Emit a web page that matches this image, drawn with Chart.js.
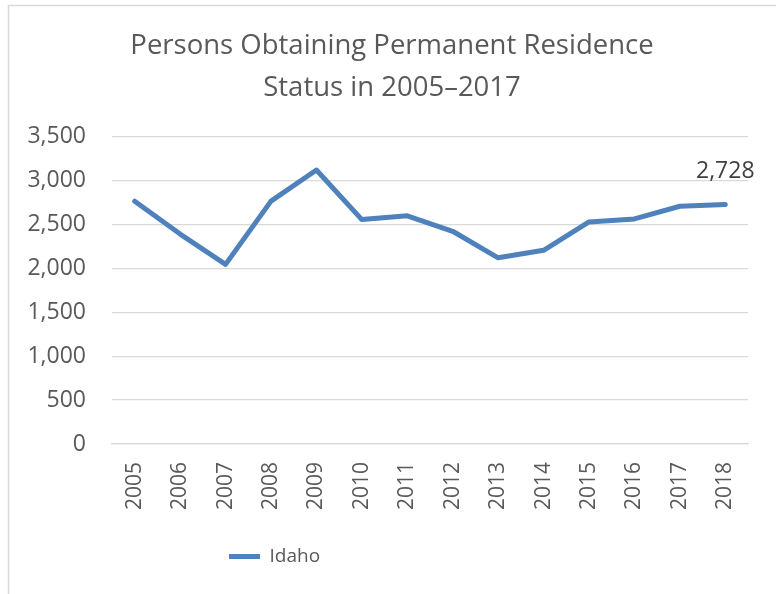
<!DOCTYPE html>
<html>
<head>
<meta charset="utf-8">
<script src="https://cdn.jsdelivr.net/npm/chart.js@4.4.1/dist/chart.umd.min.js"></script>
<style>
  html, body { margin: 0; padding: 0; background: #ffffff; }
  #wrap { position: relative; width: 776px; height: 594px; }
</style>
</head>
<body>
<div id="wrap"><canvas id="c" width="776" height="594"></canvas></div>
<script>
const titleLines = ['Persons Obtaining Permanent Residence', 'Status in 2005\u20132017'];
const years = ['2005','2006','2007','2008','2009','2010','2011','2012','2013','2014','2015','2016','2017','2018'];
const idaho = [2765, 2390, 2045, 2765, 3120, 2555, 2598, 2422, 2120, 2205, 2528, 2563, 2707, 2728];
const seriesName = 'Idaho';
const yTicks = [0, 500, 1000, 1500, 2000, 2500, 3000, 3500];

const FONT = "'Open Sans', sans-serif";
const TEXT = '#595959';
const BLUE = '#4f81bd';

const frame = {
  id: 'frame',
  beforeDraw(chart) {
    const ctx = chart.ctx;
    ctx.save();
    ctx.fillStyle = '#ffffff';
    ctx.fillRect(0, 0, chart.width, chart.height);
    ctx.strokeStyle = '#d9d9d9';
    ctx.lineWidth = 1.5;
    ctx.strokeRect(8.5, 5.5, chart.width + 20, chart.height + 20);
    ctx.restore();
  }
};

const boxPlace = {
  id: 'boxPlace',
  afterLayout(chart) {
    if (chart.legend) { chart.legend.left = 219; }
    if (chart.titleBlock) { chart.titleBlock.left = 36; }
  }
};

const lastLabel = {
  id: 'lastLabel',
  afterDatasetsDraw(chart) {
    const ctx = chart.ctx;
    const meta = chart.getDatasetMeta(0);
    const i = idaho.length - 1;
    const pt = meta.data[i];
    ctx.save();
    ctx.font = "23px " + FONT;
    ctx.fillStyle = '#404040';
    ctx.textAlign = 'center';
    ctx.textBaseline = 'middle';
    ctx.fillText(idaho[i].toLocaleString('en-US'), pt.x, pt.y - 33);
    ctx.restore();
  }
};

new Chart(document.getElementById('c'), {
  type: 'line',
  data: {
    labels: years,
    datasets: [{
      label: seriesName,
      data: idaho,
      borderColor: BLUE,
      backgroundColor: BLUE,
      borderWidth: 5,
      borderCapStyle: 'round',
      borderJoinStyle: 'round',
      pointRadius: 0,
      pointHoverRadius: 0,
      pointStyle: 'line',
      tension: 0,
      fill: false
    }]
  },
  options: {
    responsive: false,
    animation: false,
    devicePixelRatio: 1,
    layout: { padding: { top: 5, left: 18, right: 28, bottom: 18 } },
    plugins: {
      title: {
        display: true,
        text: titleLines,
        color: TEXT,
        font: { family: FONT, size: 27.5, weight: 'normal', lineHeight: 1.52 },
        padding: { top: 20, bottom: 28 }
      },
      legend: {
        position: 'bottom',
        align: 'start',
        labels: {
          usePointStyle: true,
          pointStyleWidth: 31,
          color: TEXT,
          font: { family: FONT, size: 19 },
          padding: 10
        }
      },
      tooltip: { enabled: false }
    },
    scales: {
      x: {
        offset: true,
        grid: { display: false, drawTicks: false },
        border: { display: true, color: '#d9d9d9', width: 1.3 },
        ticks: {
          color: TEXT,
          font: { family: FONT, size: 21 },
          minRotation: 90,
          maxRotation: 90,
          padding: 18,
          autoSkip: false
        },
        afterFit(s) { s.height = 93; }
      },
      y: {
        min: 0,
        max: 3500,
        afterBuildTicks(s) { s.ticks = yTicks.map(v => ({ value: v })); },
        grid: { color: '#d9d9d9', lineWidth: 1.3, drawTicks: false },
        border: { display: false },
        ticks: {
          color: TEXT,
          font: { family: FONT, size: 23 },
          padding: 26,
          callback: v => v.toLocaleString('en-US')
        },
        afterFit(s) { s.width = 94; }
      }
    }
  },
  plugins: [frame, boxPlace, lastLabel]
});
</script>
</body>
</html>
